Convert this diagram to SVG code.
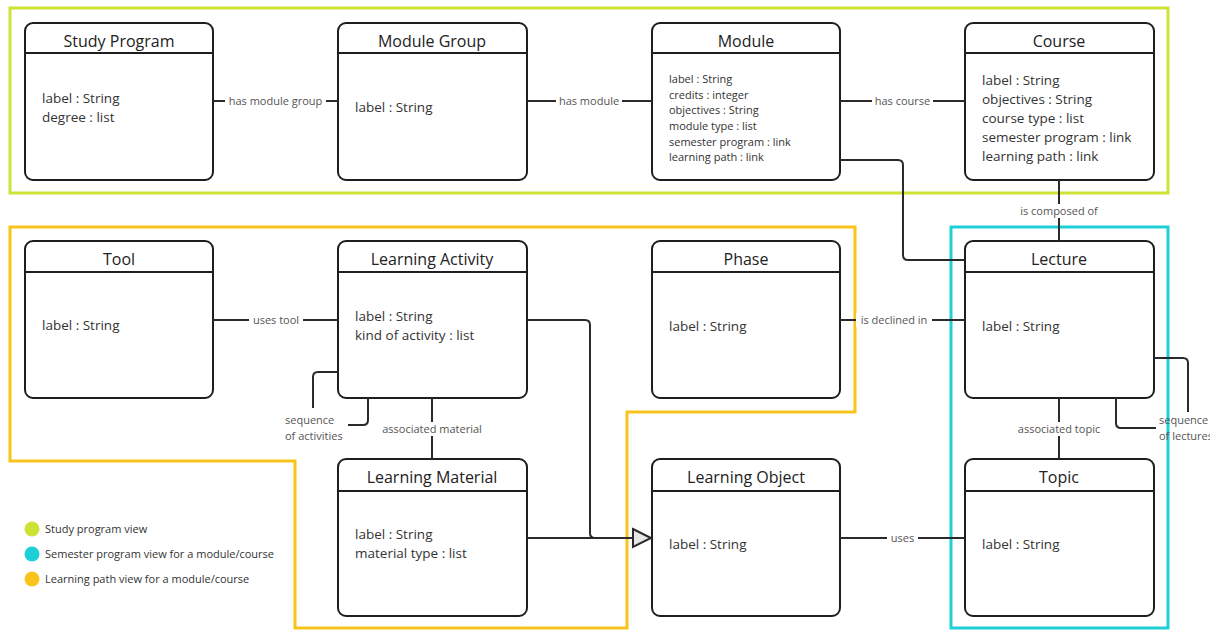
<svg xmlns="http://www.w3.org/2000/svg" width="1210" height="630" viewBox="0 0 1210 630">
  <style>
    .box { fill: #ffffff; stroke: #1e1e1e; stroke-width: 2; }
    .hdr { stroke: #1e1e1e; stroke-width: 2; }
    .title { font-family: "Open Sans", "Liberation Sans", sans-serif; font-size: 16px; fill: #222222; text-anchor: middle; }
    .attr { font-family: "Open Sans", "Liberation Sans", sans-serif; font-size: 13.5px; fill: #333333; }
    .attr-sm { font-family: "Open Sans", "Liberation Sans", sans-serif; font-size: 11px; fill: #333333; }
    .conn { fill: none; stroke: #2a2a2a; stroke-width: 2; }
    .lbl { font-family: "Open Sans", "Liberation Sans", sans-serif; font-size: 11px; fill: #555555; text-anchor: middle; }
    .lbl-l { font-family: "Open Sans", "Liberation Sans", sans-serif; font-size: 11px; fill: #555555; }
    .lblbg { fill: #ffffff; }
    .view { fill: none; stroke-width: 3; }
    .legend { font-family: "Open Sans", "Liberation Sans", sans-serif; font-size: 11px; fill: #333333; }
  </style>

  <!-- view frames -->
  <g id="views">
    <rect class="view" x="10" y="8" width="1158" height="185" stroke="#cde335"/>
    <path class="view" d="M10,227 H855 V412 H627 V628 H295 V461 H10 Z" stroke="#f8c41b"/>
    <rect class="view" x="951" y="227" width="217" height="401" stroke="#1dcfd7"/>
  </g>

  <!-- row 1 -->
  <g id="study-program">
    <rect class="box" x="25" y="23" width="188" height="157" rx="8"/>
    <line class="hdr" x1="25" y1="53" x2="213" y2="53"/>
    <text class="title" x="119" y="47">Study Program</text>
    <text class="attr" x="42" y="103">label : String</text>
    <text class="attr" x="42" y="122">degree : list</text>
  </g>
  <g id="module-group">
    <rect class="box" x="338" y="23" width="189" height="157" rx="8"/>
    <line class="hdr" x1="338" y1="53" x2="527" y2="53"/>
    <text class="title" x="432" y="47">Module Group</text>
    <text class="attr" x="355" y="112">label : String</text>
  </g>
  <g id="module">
    <rect class="box" x="652" y="23" width="188" height="157" rx="8"/>
    <line class="hdr" x1="652" y1="53" x2="840" y2="53"/>
    <text class="title" x="746" y="47">Module</text>
    <text class="attr-sm" x="669" y="83">label : String</text>
    <text class="attr-sm" x="669" y="99">credits : integer</text>
    <text class="attr-sm" x="669" y="114">objectives : String</text>
    <text class="attr-sm" x="669" y="130">module type : list</text>
    <text class="attr-sm" x="669" y="146">semester program : link</text>
    <text class="attr-sm" x="669" y="161">learning path : link</text>
  </g>
  <g id="course">
    <rect class="box" x="965" y="23" width="189" height="157" rx="8"/>
    <line class="hdr" x1="965" y1="53" x2="1154" y2="53"/>
    <text class="title" x="1059" y="47">Course</text>
    <text class="attr" x="982" y="85">label : String</text>
    <text class="attr" x="982" y="104">objectives : String</text>
    <text class="attr" x="982" y="123">course type : list</text>
    <text class="attr" x="982" y="142">semester program : link</text>
    <text class="attr" x="982" y="161">learning path : link</text>
  </g>

  <!-- row 2 -->
  <g id="tool">
    <rect class="box" x="25" y="241" width="188" height="157" rx="8"/>
    <line class="hdr" x1="25" y1="272" x2="213" y2="272"/>
    <text class="title" x="119" y="265">Tool</text>
    <text class="attr" x="42" y="330">label : String</text>
  </g>
  <g id="learning-activity">
    <rect class="box" x="338" y="241" width="189" height="157" rx="8"/>
    <line class="hdr" x1="338" y1="272" x2="527" y2="272"/>
    <text class="title" x="432" y="265">Learning Activity</text>
    <text class="attr" x="355" y="321">label : String</text>
    <text class="attr" x="355" y="340">kind of activity : list</text>
  </g>
  <g id="phase">
    <rect class="box" x="652" y="241" width="188" height="157" rx="8"/>
    <line class="hdr" x1="652" y1="272" x2="840" y2="272"/>
    <text class="title" x="746" y="265">Phase</text>
    <text class="attr" x="669" y="331">label : String</text>
  </g>
  <g id="lecture">
    <rect class="box" x="965" y="241" width="189" height="157" rx="8"/>
    <line class="hdr" x1="965" y1="272" x2="1154" y2="272"/>
    <text class="title" x="1059" y="265">Lecture</text>
    <text class="attr" x="982" y="331">label : String</text>
  </g>

  <!-- row 3 -->
  <g id="learning-material">
    <rect class="box" x="338" y="459" width="189" height="157" rx="8"/>
    <line class="hdr" x1="338" y1="491" x2="527" y2="491"/>
    <text class="title" x="432" y="483">Learning Material</text>
    <text class="attr" x="355" y="539">label : String</text>
    <text class="attr" x="355" y="558">material type : list</text>
  </g>
  <g id="learning-object">
    <rect class="box" x="652" y="459" width="188" height="157" rx="8"/>
    <line class="hdr" x1="652" y1="491" x2="840" y2="491"/>
    <text class="title" x="746" y="483">Learning Object</text>
    <text class="attr" x="669" y="549">label : String</text>
  </g>
  <g id="topic">
    <rect class="box" x="965" y="459" width="189" height="157" rx="8"/>
    <line class="hdr" x1="965" y1="491" x2="1154" y2="491"/>
    <text class="title" x="1059" y="483">Topic</text>
    <text class="attr" x="982" y="549">label : String</text>
  </g>

  <!-- connectors -->
  <g id="connectors">
    <path class="conn" d="M213,101 H338"/>
    <path class="conn" d="M527,101 H652"/>
    <path class="conn" d="M840,101 H965"/>
    <path class="conn" d="M840,160 H898 Q903,160 903,165 V255 Q903,260 908,260 H965"/>
    <path class="conn" d="M1059,180 V241"/>
    <path class="conn" d="M213,320 H338"/>
    <path class="conn" d="M840,320 H965"/>
    <path class="conn" d="M338,372 H318 Q313,372 313,377 V408"/>
    <path class="conn" d="M348,425 H363 Q368,425 368,420 V398"/>
    <path class="conn" d="M432,398 V459"/>
    <path class="conn" d="M527,320 H585 Q590,320 590,325 V533 Q590,538 595,538 H633"/>
    <path class="conn" d="M527,538 H633"/>
    <polygon points="633,529 651,538 633,547" fill="#e6e6e6" stroke="#2a2a2a" stroke-width="2" stroke-linejoin="miter"/>
    <path class="conn" d="M840,538 H965"/>
    <path class="conn" d="M1059,398 V459"/>
    <path class="conn" d="M1154,358 H1183 Q1188,358 1188,363 V412"/>
    <path class="conn" d="M1116,398 V423 Q1116,428 1121,428 H1156"/>
  </g>

  <!-- connector labels -->
  <g id="labels">
    <rect class="lblbg" x="225" y="94" width="101" height="14"/>
    <text class="lbl" x="275.5" y="105">has module group</text>
    <rect class="lblbg" x="556" y="94" width="66" height="14"/>
    <text class="lbl" x="589" y="105">has module</text>
    <rect class="lblbg" x="872" y="94" width="61" height="14"/>
    <text class="lbl" x="902.5" y="105">has course</text>
    <rect class="lblbg" x="1017" y="204" width="84" height="14"/>
    <text class="lbl" x="1059" y="215">is composed of</text>
    <rect class="lblbg" x="249" y="313" width="54" height="14"/>
    <text class="lbl" x="276" y="324">uses tool</text>
    <rect class="lblbg" x="856" y="313" width="76" height="14"/>
    <text class="lbl" x="894" y="324">is declined in</text>
    <rect class="lblbg" x="379" y="422" width="106" height="14"/>
    <text class="lbl" x="432" y="433">associated material</text>
    <rect class="lblbg" x="1015" y="422" width="88" height="14"/>
    <text class="lbl" x="1059" y="433">associated topic</text>
    <rect class="lblbg" x="887" y="531" width="31" height="14"/>
    <text class="lbl" x="902.5" y="542">uses</text>
    <text class="lbl-l" x="285" y="424">sequence</text>
    <text class="lbl-l" x="285" y="440">of activities</text>
    <text class="lbl-l" x="1159" y="424">sequence</text>
    <text class="lbl-l" x="1159" y="440">of lectures</text>
  </g>

  <!-- legend -->
  <g id="legend">
    <circle cx="32" cy="529" r="7.5" fill="#cde335"/>
    <text class="legend" x="45" y="533">Study program view</text>
    <circle cx="32" cy="554" r="7.5" fill="#1dcfd7"/>
    <text class="legend" x="45" y="558">Semester program view for a module/course</text>
    <circle cx="32" cy="579" r="7.5" fill="#f8c41b"/>
    <text class="legend" x="45" y="583">Learning path view for a module/course</text>
  </g>
</svg>
